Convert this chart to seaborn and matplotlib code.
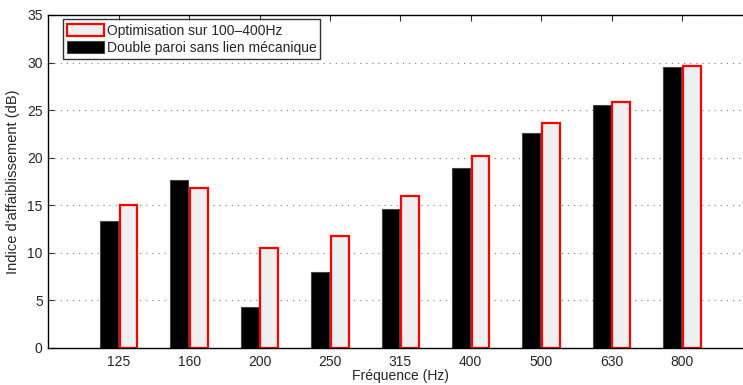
import matplotlib
matplotlib.use("Agg")
import matplotlib.pyplot as plt
import seaborn as sns
import pandas as pd

frequencies = ["125", "160", "200", "250", "315", "400", "500", "630", "800"]
double_paroi = [13.3, 17.6, 4.25, 8.0, 14.6, 18.9, 22.6, 25.5, 29.55]
optimisation = [15.0, 16.8, 10.5, 11.8, 16.0, 20.15, 23.65, 25.85, 29.6]
series_names = ["Double paroi sans lien mécanique", "Optimisation sur 100\u2013400Hz"]

sns.set_theme(style="white")
plt.rcParams['font.family'] = ['Liberation Sans', 'DejaVu Sans']

df = pd.DataFrame({
    "freq": frequencies * 2,
    "val": double_paroi + optimisation,
    "serie": [series_names[0]] * len(frequencies) + [series_names[1]] * len(frequencies),
})

W, H = 743, 385
fig = plt.figure(figsize=(W / 100, H / 100), dpi=100)
ax = fig.add_axes([48.3 / W, (H - 347.7) / H, 704 / W, 332.7 / H])

sns.barplot(data=df, x="freq", y="val", hue="serie", hue_order=series_names,
            order=frequencies, width=0.56, gap=0.1, ax=ax, errorbar=None,
            palette=["black", "#efefef"], saturation=1, legend=False)

for p in ax.containers[0]:
    p.set_facecolor("black")
    p.set_edgecolor("#444444")
    p.set_linewidth(0.8)
for p in ax.containers[1]:
    p.set_facecolor("#efefef")
    p.set_edgecolor("#ff0000")
    p.set_linewidth(1.6)

ax.set_xlim(-1, 9)
ax.set_ylim(0, 35)
ax.set_yticks(range(0, 36, 5))
ax.yaxis.grid(True, linestyle=(0, (1, 4.5)), color="#777777", linewidth=0.8)
ax.xaxis.grid(False)
ax.set_axisbelow(True)

for s in ax.spines.values():
    s.set_color("black")
    s.set_linewidth(1.0)
    s.set_visible(True)

ax.tick_params(direction="in", top=True, right=True, bottom=True, left=True,
               length=4, width=0.8, color="#333333", labelsize=10)
ax.tick_params(axis="x", pad=5)
ax.tick_params(axis="y", pad=4)
ax.set_xlabel("Fréquence (Hz)", fontsize=10, labelpad=0)
ax.set_ylabel("Indice d'affaiblissement (dB)", fontsize=10.5, labelpad=5)

handles = [ax.containers[1][0], ax.containers[0][0]]
labels = [series_names[1], series_names[0]]
leg = ax.legend(handles, labels, loc="upper left", bbox_to_anchor=(14.5 / 704, 1 - 4.5 / 332.7),
                fontsize=10, frameon=True, fancybox=False, edgecolor="black",
                handlelength=2.65, handleheight=0.95, handletextpad=0.2,
                borderpad=0.3, labelspacing=0.25, borderaxespad=0)
leg.get_frame().set_linewidth(1.0)

fig.savefig("out.png", dpi=100)
